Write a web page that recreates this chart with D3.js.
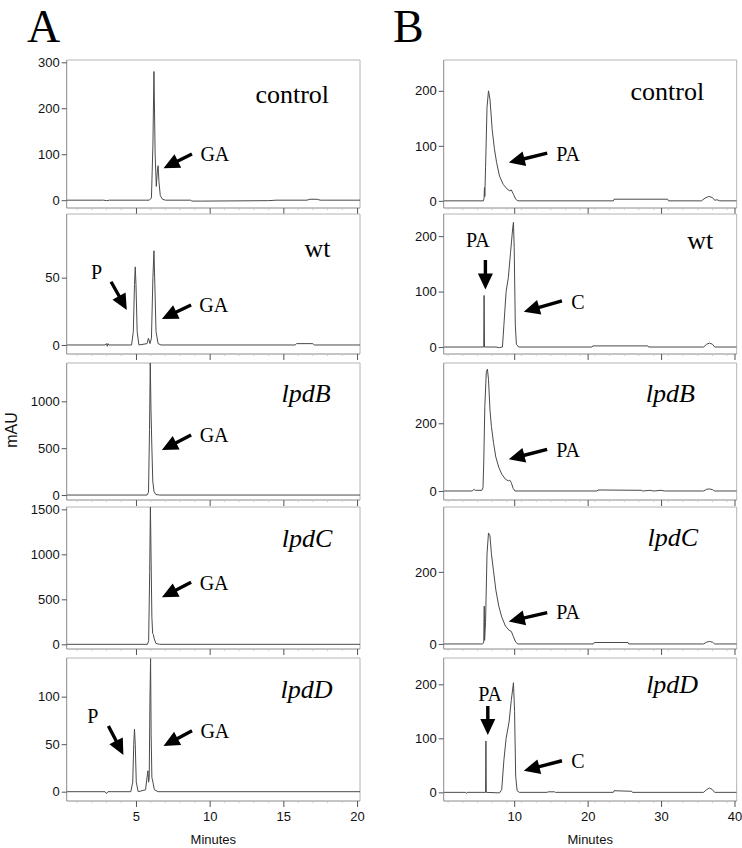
<!DOCTYPE html>
<html><head><meta charset="utf-8">
<script src="https://cdn.jsdelivr.net/npm/d3@7"></script>
<style>
body{margin:0;background:#fff}
svg{display:block}
</style></head><body>
<svg id="chart" width="742" height="848"></svg>
<script>
// rows of both panels
const samples = ['control', 'wt', 'lpdB', 'lpdC', 'lpdD'];
const italicRow = [false, false, true, true, true];

// x axis ticks
const xTicksA = [5, 10, 15, 20];
const xTicksB = [10, 20, 30, 40];
const xDomainA = [0.3, 20.2];
const xDomainB = [0.4, 40.3];

// y axis (mAU) ticks & domains per row
const yTicksA = [[0, 100, 200, 300], [0, 50], [0, 500, 1000], [0, 500, 1000, 1500], [0, 50, 100]];
const yTicksB = [[0, 100, 200], [0, 100, 200], [0, 200], [0, 200], [0, 100, 200]];
const yDomainsA = [[-17, 305], [-6.7, 97.3], [-53, 1409], [-52, 1526], [-9.8, 140.7]];
const yDomainsB = [[-13, 256], [-12.6, 240], [-26.6, 378], [-14, 380], [-16, 248.7]];

// traces [minutes, mAU] - panel A
const aControl = [[0.3,0],[2.8,0],[3.0,-1],[3.2,0],[5.9,0],[6.05,5],[6.15,120],[6.22,280],[6.3,100],[6.38,30],[6.44,60],[6.5,75],[6.56,40],[6.65,10],[6.8,2],[7,0],[8.7,0],[8.8,-2],[9.5,-2],[14,-1],[14.5,0],[16.6,0],[16.8,2],[17.3,2],[17.5,0],[20.2,0]];
const aWt = [[0.3,0],[2.9,0],[3.0,1],[3.05,-1],[3.1,1],[3.15,0],[4.7,0],[4.82,10],[4.9,45],[4.95,58],[5.0,45],[5.08,10],[5.2,0],[5.75,1],[5.85,5],[5.95,1],[6.05,5],[6.15,50],[6.22,70],[6.28,45],[6.36,10],[6.5,1],[6.7,0],[15.8,0],[15.9,1],[17,1],[17.1,0],[20.2,0]];
const aLpdB = [[0.3,0],[5.75,0],[5.85,30],[5.92,700],[5.97,1410],[6.02,900],[6.08,500],[6.14,150],[6.22,40],[6.35,5],[6.6,0],[20.2,0]];
const aLpdC = [[0.3,0],[5.78,0],[5.86,40],[5.93,800],[5.98,1540],[6.03,900],[6.08,300],[6.13,120],[6.18,110],[6.24,60],[6.35,10],[6.6,0],[20.2,0]];
const aLpdD = [[0.3,0],[2.9,0],[3.0,-2],[3.1,0],[4.65,0],[4.78,10],[4.85,50],[4.9,66],[4.95,50],[5.02,10],[5.15,0],[5.65,2],[5.75,15],[5.81,22],[5.86,10],[5.9,15],[5.95,100],[5.99,140],[6.03,60],[6.08,15],[6.15,10],[6.25,2],[6.5,0],[20.2,0]];

// traces [minutes, mAU] - panel B
const bControl = [[0.4,0],[5.8,0],[5.9,5],[5.95,24],[6.0,8],[6.1,60],[6.3,170],[6.5,200],[6.7,185],[7.0,130],[7.3,95],[7.6,70],[8.0,45],[8.5,30],[9.0,22],[9.4,18],[9.6,20],[9.9,12],[10.2,3],[10.5,0],[23.5,0],[23.6,3],[30.9,3],[31,0],[35.5,0],[36,5],[36.5,8],[37,6],[37.3,1],[37.6,2],[38,0],[40.3,0]];
const bWt = [[0.4,0],[5.85,0],[5.9,93],[5.96,0],[7.5,0],[8.0,-1],[8.4,0],[8.6,40],[8.9,100],[9.2,125],[9.5,170],[9.8,215],[9.9,225],[10.0,180],[10.15,40],[10.3,5],[10.6,0],[20.6,0],[20.7,2],[28.2,2],[28.3,0],[35.8,0],[36.2,5],[36.6,7],[37.0,5],[37.3,0],[40.3,0]];
const bLpdB = [[0.4,0],[4.3,0],[4.5,5],[4.7,2],[5.6,2],[5.75,10],[5.85,80],[6.0,250],[6.2,350],[6.35,360],[6.5,330],[6.7,240],[6.9,190],[7.2,140],[7.5,100],[7.9,70],[8.3,50],[8.8,35],[9.2,30],[9.4,32],[9.6,25],[9.85,8],[10.1,0],[21.3,0],[21.4,3],[27.4,2],[27.5,0],[28.5,2],[29,0],[30,2],[30.5,0],[35.8,0],[36.2,5],[36.6,6],[37,4],[37.3,0],[40.3,0]];
const bLpdC = [[0.4,0],[5.7,0],[5.85,5],[5.92,105],[5.97,10],[6.1,60],[6.3,250],[6.5,308],[6.7,300],[6.9,250],[7.2,200],[7.5,150],[7.9,105],[8.3,75],[8.8,50],[9.3,38],[9.6,35],[9.9,20],[10.2,5],[10.5,0],[20.8,0],[20.9,4],[25.5,4],[25.6,0],[35.8,0],[36.2,5],[36.6,7],[37,5],[37.3,0],[40.3,0]];
const bLpdD = [[0.4,0],[3.4,0],[3.5,-2],[3.6,0],[6.1,0],[6.15,95],[6.2,0],[8.0,-1],[8.3,5],[8.6,60],[8.9,100],[9.3,130],[9.6,170],[9.9,203],[10.05,150],[10.2,30],[10.4,3],[10.7,0],[14.5,0],[14.6,1],[15.5,1],[15.6,0],[23.5,0],[23.6,3],[26,2],[26.1,0],[35.8,0],[36.2,5],[36.6,8],[37,5],[37.3,0],[40.3,0]];

// annotations in data units: arrows [from, to] and peak labels
const notesA = [
  [{ arrow: [[8.8, 100.7], [6.87, 69.6]] }, { text: 'GA', at: [9.37, 86] }],
  [{ text: 'P', at: [1.95, 48.8] }, { arrow: [[3.31, 47], [4.38, 26]] }, { arrow: [[8.74, 29.7], [6.76, 19.3]] }, { text: 'GA', at: [9.3, 24.7] }],
  [{ arrow: [[8.74, 640], [6.76, 480]] }, { text: 'GA', at: [9.32, 569] }],
  [{ arrow: [[8.74, 689], [6.76, 522]] }, { text: 'GA', at: [9.32, 603] }],
  [{ text: 'P', at: [1.7, 72] }, { arrow: [[3.13, 69.2], [4.15, 38.6]] }, { arrow: [[8.8, 64.2], [6.87, 48.1]] }, { text: 'GA', at: [9.37, 56.2] }]
];
const notesB = [
  [{ arrow: [[14.49, 86.7], [9.27, 69.6]] }, { text: 'PA', at: [15.72, 73.3] }],
  [{ text: 'PA', at: [5.04, 179.6], mid: true }, { arrow: [[6.08, 156.8], [6.08, 104]] }, { arrow: [[16.5, 83.4], [11.31, 63.6]] }, { text: 'C', at: [17.77, 68] }],
  [{ arrow: [[14.49, 123], [9.27, 93.6]] }, { text: 'PA', at: [15.72, 101] }],
  [{ arrow: [[14.49, 87], [9.27, 62]] }, { text: 'PA', at: [15.72, 68.6] }],
  [{ text: 'PA', at: [6.72, 169.6], mid: true }, { arrow: [[6.4, 159.8], [6.4, 106]] }, { arrow: [[16.5, 58.5], [11.31, 40]] }, { text: 'C', at: [17.77, 44.4] }]
];
// sample name anchor (right end, baseline)
const nameA = [[18.1, 211.5], [18.2, 65.6], [18.2, 996], [18.33, 1084], [18.33, 98.3]];
const nameB = [[35.87, 183.6], [37.1, 176], [34.6, 263.8], [35.05, 273], [35.05, 184.4]];

const rowTop = [60, 214, 363, 507, 658];
const rowBottom = [208, 354, 500, 649, 801];
const SERIF = '"Liberation Serif","Times New Roman",serif';
const SANS = '"Liberation Sans",Arial,sans-serif';

const svg = d3.select('#chart');

const panels = [
  { letter: 'A', lx: 27, left: 66.7, right: 360, xDomain: xDomainA, xTicks: xTicksA, minorStep: 1,
    traces: [aControl, aWt, aLpdB, aLpdC, aLpdD], yDomains: yDomainsA, yTicks: yTicksA, notes: notesA, names: nameA },
  { letter: 'B', lx: 393, left: 443.7, right: 736.7, xDomain: xDomainB, xTicks: xTicksB, minorStep: 2,
    traces: [bControl, bWt, bLpdB, bLpdC, bLpdD], yDomains: yDomainsB, yTicks: yTicksB, notes: notesB, names: nameB }
];

function arrowPath(x1, y1, x2, y2) {
  const dx = x2 - x1, dy = y2 - y1, L = Math.hypot(dx, dy);
  const ux = dx / L, uy = dy / L, px = -uy, py = ux;
  const hl = 16, hw = 7.5, sw = 1.7;
  const bx = x2 - ux * hl, by = y2 - uy * hl;
  const pts = [
    [x1 + px * sw, y1 + py * sw], [bx + px * sw, by + py * sw], [bx + px * hw, by + py * hw],
    [x2, y2], [bx - px * hw, by - py * hw], [bx - px * sw, by - py * sw], [x1 - px * sw, y1 - py * sw]
  ];
  return 'M' + pts.map(p => p[0].toFixed(1) + ',' + p[1].toFixed(1)).join('L') + 'Z';
}

const defs = svg.append('defs');

panels.forEach((P, pi) => {
  svg.append('text').attr('x', P.lx).attr('y', 42).attr('font-family', SERIF).attr('font-size', 46).attr('fill', '#000').text(P.letter);
  const x = d3.scaleLinear().domain(P.xDomain).range([P.left, P.right]);
  const minorTicks = d3.range(Math.ceil(P.xDomain[0]), P.xDomain[1], P.minorStep).filter(v => !P.xTicks.includes(v));

  samples.forEach((name, ri) => {
    const top = rowTop[ri], bot = rowBottom[ri];
    const y = d3.scaleLinear().domain(P.yDomains[ri]).range([bot, top]);
    const g = svg.append('g');
    const cid = 'clip' + pi + ri;
    defs.append('clipPath').attr('id', cid).append('rect').attr('x', P.left).attr('y', top).attr('width', P.right - P.left).attr('height', bot - top);

    // frame: light top/right
    g.append('path').attr('d', `M${P.left},${top}H${P.right}V${bot}`).attr('fill', 'none').attr('stroke', '#b4b4b4').attr('stroke-width', 1);

    // trace
    const line = d3.line().x(d => x(d[0])).y(d => y(d[1]));
    g.append('path').datum(P.traces[ri]).attr('clip-path', `url(#${cid})`).attr('d', line)
      .attr('fill', 'none').attr('stroke', '#4a4a4a').attr('stroke-width', 1).attr('stroke-linejoin', 'round');

    // y axis
    const ya = g.append('g').attr('transform', `translate(${P.left},0)`)
      .call(d3.axisLeft(y).tickValues(P.yTicks[ri]).tickSize(5).tickPadding(2).tickFormat(d3.format('d')));
    ya.select('.domain').attr('d', `M0,${top}V${bot}`).attr('stroke', '#8a8a8a');
    ya.selectAll('.tick line').attr('stroke', '#555');
    ya.selectAll('.tick text').attr('font-family', SANS).attr('font-size', 13).attr('fill', '#111');

    // x axis
    const last = ri === samples.length - 1;
    const xa = g.append('g').attr('transform', `translate(0,${bot})`)
      .call(d3.axisBottom(x).tickValues(P.xTicks).tickSize(6).tickPadding(5).tickFormat(last ? d3.format('d') : ''));
    xa.select('.domain').attr('d', `M${P.left},0H${P.right}`).attr('stroke', '#8a8a8a');
    xa.selectAll('.tick line').attr('stroke', '#555');
    xa.selectAll('.tick text').attr('font-family', SANS).attr('font-size', 13).attr('fill', '#111');
    g.append('g').selectAll('line').data(minorTicks).join('line')
      .attr('x1', d => x(d)).attr('x2', d => x(d)).attr('y1', bot).attr('y2', bot + 2)
      .attr('stroke', '#c8c8c8').attr('stroke-width', 1);

    // sample name
    const nm = P.names[ri];
    g.append('text').attr('x', x(nm[0])).attr('y', y(nm[1])).attr('text-anchor', 'end')
      .attr('font-family', SERIF).attr('font-size', 26).attr('font-style', italicRow[ri] ? 'italic' : 'normal')
      .attr('fill', '#000').text(name);

    // annotations
    P.notes[ri].forEach(n => {
      if (n.arrow) {
        const [a, b] = n.arrow;
        g.append('path').attr('d', arrowPath(x(a[0]), y(a[1]), x(b[0]), y(b[1]))).attr('fill', '#000');
      } else {
        g.append('text').attr('x', x(n.at[0])).attr('y', y(n.at[1]))
          .attr('text-anchor', n.mid ? 'middle' : 'start')
          .attr('font-family', SERIF).attr('font-size', 20).attr('fill', '#000').text(n.text);
      }
    });
  });

  svg.append('text').attr('x', (P.left + P.right) / 2).attr('y', 844).attr('text-anchor', 'middle')
    .attr('font-family', SANS).attr('font-size', 13).attr('fill', '#111').text('Minutes');
});

svg.append('text').attr('transform', 'translate(17,430) rotate(-90)').attr('text-anchor', 'middle')
  .attr('font-family', SANS).attr('font-size', 16).attr('fill', '#111').text('mAU');
</script>
</body></html>
